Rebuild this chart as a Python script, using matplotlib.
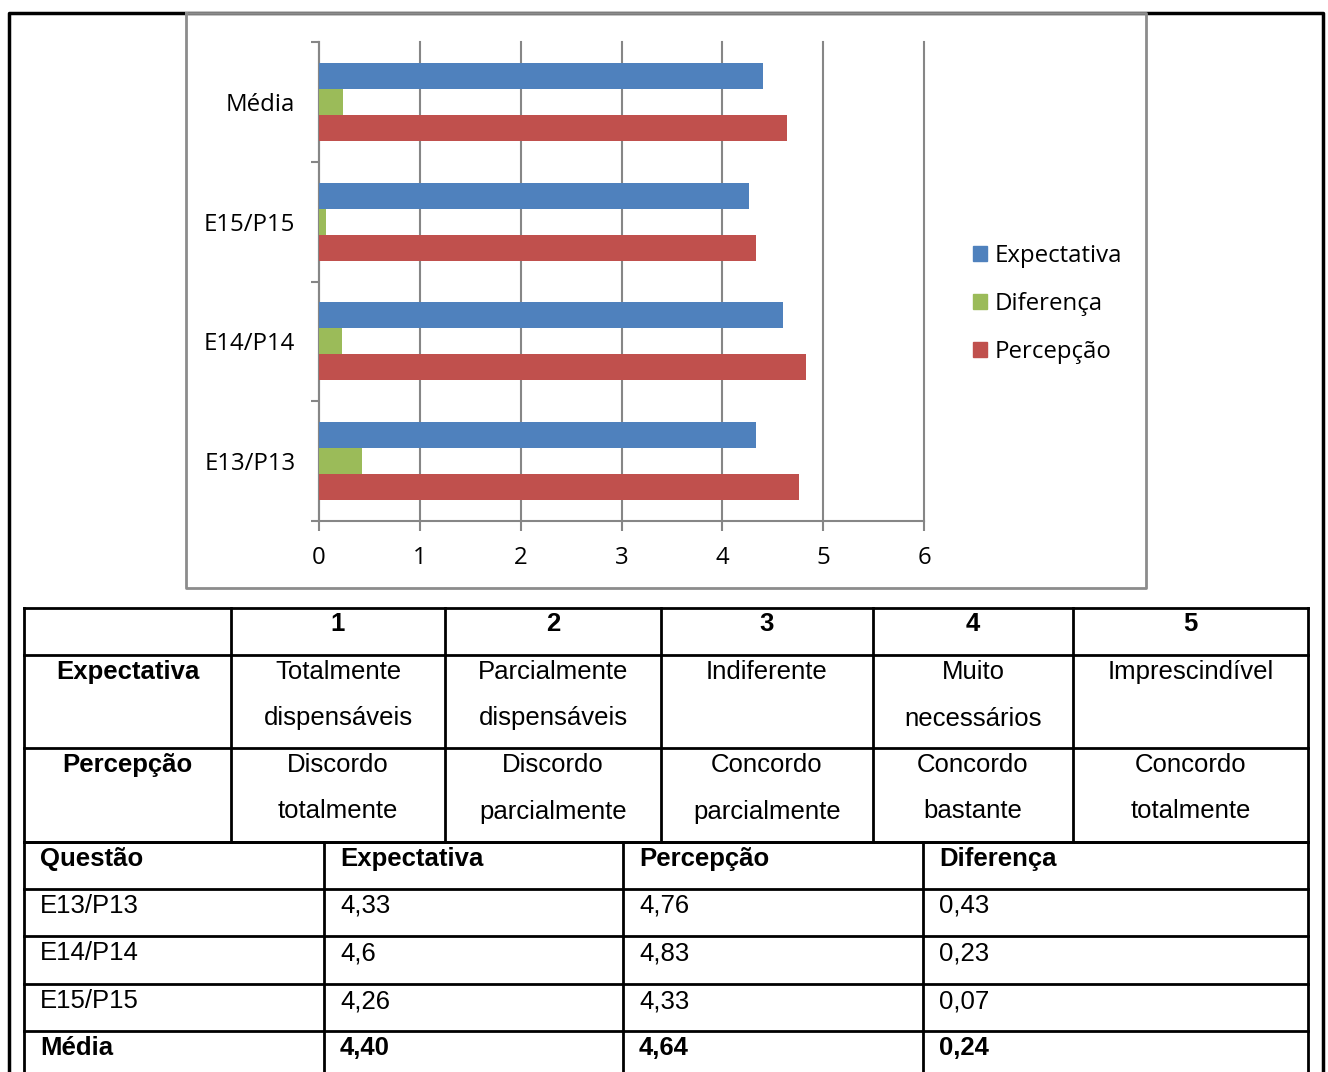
import matplotlib.pyplot as plt
from matplotlib.patches import Patch

# survey results per question
categories = ['E13/P13', 'E14/P14', 'E15/P15', 'Média']
expectativa = [4.33, 4.6, 4.26, 4.40]
diferenca = [0.43, 0.23, 0.07, 0.24]
percepcao = [4.76, 4.83, 4.33, 4.64]

# scale description table
scale_points = ['1', '2', '3', '4', '5']
scale_expectativa = ['Totalmente\ndispensáveis', 'Parcialmente\ndispensáveis', 'Indiferente',
                     'Muito\nnecessários', 'Imprescindível']
scale_percepcao = ['Discordo\ntotalmente', 'Discordo\nparcialmente', 'Concordo\nparcialmente',
                   'Concordo\nbastante', 'Concordo\ntotalmente']

BLUE = '#4F81BD'
GREEN = '#9BBB59'
RED = '#C0504D'
GRID = '#868686'

W, H = 1328, 1072
fig = plt.figure(figsize=(W / 100, H / 100), dpi=100)

# page layer in pixel coordinates for frames and tables
page = fig.add_axes([0, 0, 1, 1], zorder=0)
page.set_xlim(0, W)
page.set_ylim(H, 0)
page.axis('off')

# outer frame
page.plot([9, 9, 1323, 1323], [H + 5, 13, 13, H + 5], color='black', lw=2.5)
# chart frame
page.plot([186, 186, 1146, 1146, 186], [13, 588, 588, 13, 13], color='#8c8c8c', lw=2, zorder=3)

# ---- bar chart ----
x0, x1, y0, y1 = 319, 924, 42, 521
ax = fig.add_axes([x0 / W, 1 - y1 / H, (x1 - x0) / W, (y1 - y0) / H], zorder=2)
ax.patch.set_alpha(0)

pos = list(range(len(categories)))
bh = 0.217
ax.barh([p + bh for p in pos], expectativa, height=bh, color=BLUE, label='Expectativa', zorder=3)
ax.barh(pos, diferenca, height=bh, color=GREEN, label='Diferença', zorder=3)
ax.barh([p - bh for p in pos], percepcao, height=bh, color=RED, label='Percepção', zorder=3)

ax.set_xlim(0, 6)
ax.set_ylim(-0.5, len(categories) - 0.5)
ax.set_xticks(range(7))
ax.xaxis.grid(True, color=GRID, lw=1.5, zorder=0)
for line in ax.get_xgridlines():
    line.set_clip_on(False)
for s in ['top', 'right']:
    ax.spines[s].set_visible(False)
for s in ['left', 'bottom']:
    ax.spines[s].set_color(GRID)
    ax.spines[s].set_linewidth(1.5)

font = ['Open Sans', 'DejaVu Sans']
cfs = 17.3
ax.set_yticks(pos)
ax.set_yticklabels(categories, family=font, fontsize=cfs)
ax.tick_params(axis='y', length=0, pad=17)
ax.set_yticks([p - 0.5 for p in range(len(categories) + 1)], minor=True)
ax.tick_params(axis='y', which='minor', length=6, color=GRID, width=1.5)
ax.tick_params(axis='x', length=7, color=GRID, width=1.5, pad=11, labelsize=cfs)
for lbl in ax.get_xticklabels():
    lbl.set_family(font)

handles = [Patch(color=BLUE), Patch(color=GREEN), Patch(color=RED)]
fig.legend(handles, ['Expectativa', 'Diferença', 'Percepção'],
           loc='upper left', bbox_to_anchor=(963 / W, 1 - 234 / H),
           frameon=False, prop={'family': font, 'size': cfs},
           handlelength=0.6, handleheight=0.6, handletextpad=0.3, labelspacing=1.0,
           borderaxespad=0)

# ---- scale table ----
tfont = ['Liberation Sans', 'DejaVu Sans']
fs = 18.5
cols1 = [24, 231, 445, 661, 873, 1073, 1308]
rows1 = [608, 655, 748, 842]
for y in rows1:
    page.plot([cols1[0], cols1[-1]], [y, y], color='black', lw=2)
for x in cols1:
    page.plot([x, x], [rows1[0], rows1[-1]], color='black', lw=2)

for i, p in enumerate(scale_points):
    cx = (cols1[i + 1] + cols1[i + 2]) / 2
    page.text(cx, 624, p, ha='center', va='center', family=tfont, fontsize=fs, weight='bold')

row_labels = ['Expectativa', 'Percepção']
for r, (label, texts) in enumerate(zip(row_labels, [scale_expectativa, scale_percepcao])):
    ytop = rows1[r + 1] + 17
    page.text((cols1[0] + cols1[1]) / 2, ytop, label, ha='center', va='center',
              family=tfont, fontsize=fs, weight='bold')
    for i, t in enumerate(texts):
        cx = (cols1[i + 1] + cols1[i + 2]) / 2
        for k, line in enumerate(t.split('\n')):
            page.text(cx, ytop + k * 46.5, line, ha='center', va='center',
                      family=tfont, fontsize=fs)

# ---- values table ----
cols2 = [24, 324, 623, 923, 1308]
rows2 = [842, 889, 936, 984, 1031, 1078]
for y in rows2:
    page.plot([cols2[0], cols2[-1]], [y, y], color='black', lw=2)
for x in cols2:
    page.plot([x, x], [rows2[0], rows2[-1]], color='black', lw=2)


def fmt(v, digits=None):
    s = f'{v:.{digits}f}' if digits else str(v)
    return s.replace('.', ',')


header = ['Questão', 'Expectativa', 'Percepção', 'Diferença']
table_rows = [header]
for c, e, p, d in zip(categories[:-1], expectativa[:-1], percepcao[:-1], diferenca[:-1]):
    table_rows.append([c, fmt(e), fmt(p), fmt(d)])
table_rows.append([categories[-1], fmt(expectativa[-1], 2), fmt(percepcao[-1], 2), fmt(diferenca[-1], 2)])

for r, row in enumerate(table_rows):
    bold = r == 0 or r == len(table_rows) - 1
    for c, t in enumerate(row):
        page.text(cols2[c] + 16, rows2[r] + 17, t, ha='left', va='center', family=tfont,
                  fontsize=fs, weight='bold' if bold else 'normal')

fig.savefig('out.png', dpi=100)
